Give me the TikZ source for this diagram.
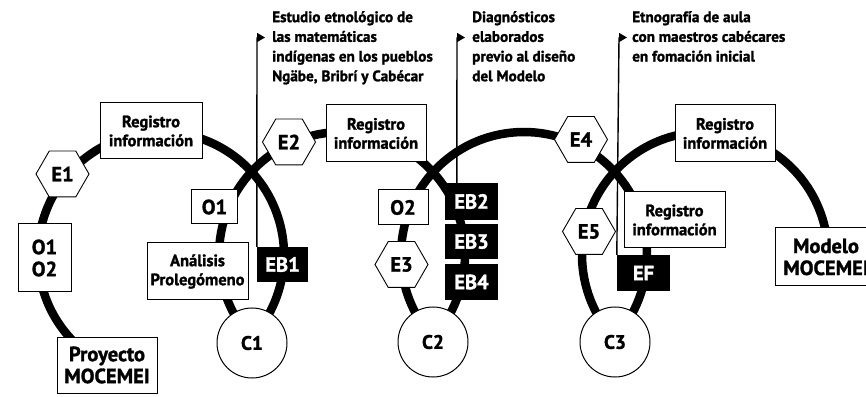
\documentclass[tikz,border=0pt]{standalone}
\usepackage{fontspec}
\setmainfont{PT Sans}[BoldFeatures={FakeBold=1.5}]
\usetikzlibrary{shapes.geometric,arrows.meta,calc}
\begin{document}
\begin{tikzpicture}[x=1pt,y=1pt,
  arcline/.style={line width=8.5pt},
  box/.style={draw, line width=1pt, fill=white, inner sep=0pt, align=center, font=\bfseries\fontsize{16.5}{19}\selectfont},
  bigbox/.style={box, font=\bfseries\fontsize{20.5}{22}\selectfont},
  hexa/.style={regular polygon, regular polygon sides=6, draw, line width=0.9pt, fill=white, minimum size=53pt, inner sep=0pt, font=\bfseries\fontsize{20.5}{22}\selectfont},
  blackbox/.style={fill=black, text=white, inner sep=0pt, font=\bfseries\fontsize{20.5}{22}\selectfont, minimum width=53pt, minimum height=36pt},
  cnode/.style={circle, draw, line width=1pt, fill=white, minimum size=70pt, inner sep=0pt, font=\bfseries\fontsize{19.5}{21}\selectfont},
  header/.style={anchor=north west, inner sep=0pt, align=left, font=\bfseries\fontsize{15.2}{19.7}\selectfont},
  pointer/.style={line width=1.4pt},
  tip/.style={-{Triangle[length=8pt,width=9pt]}, line width=1.4pt}
]
\useasboundingbox (0,0) rectangle (866,396);
% thick arcs
\draw[arcline] (161,141) ++(228:123) arc[start angle=228, end angle=-42.6, radius=123];
\draw[arcline] (342,141) ++(222.6:123) arc[start angle=222.6, end angle=-42.6, radius=123];
\draw[arcline] (524,141) ++(222.6:123) arc[start angle=222.6, end angle=-42.6, radius=123];
\draw[arcline] (705,141) ++(222.6:123) arc[start angle=222.6, end angle=-5, radius=123];
% nodes
\node[box, minimum width=102pt, minimum height=56pt] (reg1) at (151,265) {Registro\\información};
\node[hexa] (e1) at (62.5,222) {E1};
\node[bigbox, minimum width=53pt, minimum height=68pt] (o12) at (44.5,138) {O1\\O2};
\node[bigbox, minimum width=100pt, minimum height=56pt] (proy) at (107,31) {Proyecto\\MOCEMEI};
\node[box, minimum width=101pt, minimum height=57pt] (anal) at (197.5,124.5) {Análisis\\Prolegómeno};
\node[bigbox, minimum width=46pt, minimum height=34pt] (o1) at (214.5,189) {O1};
\node[cnode] (c1) at (252,53) {C1};
\node[blackbox, minimum width=51pt, minimum height=35pt] (eb1) at (282.5,131.5) {EB1};
\node[hexa] (e2) at (289,254) {E2};
\node[box, minimum width=100pt, minimum height=57pt] (reg2) at (376,262.5) {Registro\\información};
\node[bigbox, minimum width=50pt, minimum height=35pt] (o2) at (403,188.5) {O2};
\node[hexa] (e3) at (401.5,131.5) {E3};
\node[blackbox, minimum height=37pt] (eb2) at (471.5,194.5) {EB2};
\node[blackbox, minimum height=35pt] (eb3) at (471.5,154.5) {EB3};
\node[blackbox, minimum height=36pt] (eb4) at (471.5,114) {EB4};
\node[cnode] (c2) at (433,54) {C2};
\node[hexa] (e4) at (581,256.5) {E4};
\node[box, minimum width=100pt, minimum height=57pt] (reg3) at (725,262.5) {Registro\\información};
\node[box, minimum width=101pt, minimum height=56pt] (reg4) at (674.5,176) {Registro\\información};
\node[hexa] (e5) at (589,164.5) {E5};
\node[blackbox] (ef) at (643.5,123) {EF};
\node[cnode] (c3) at (615,54) {C3};
\node[bigbox, minimum width=102pt, minimum height=58pt] (model) at (826,139) {Modelo\\MOCEMEI};
% pointers
\coordinate (t1) at (257,358.5);
\coordinate (t2) at (457,358.5);
\coordinate (t3) at (619,358.5);
\draw[pointer] (eb1.north west) -- (t1);
\draw[tip] (t1) -- ++(8,0);
\draw[pointer] ($(eb2.north west)+(12,0)$) -- (t2);
\draw[tip] (t2) -- ++(8,0);
\draw[pointer] (ef.north west) -- (t3);
\draw[tip] (t3) -- ++(8,0);
% headers
\node[header] (h1) at (272,385) {Estudio etnológico de\\las matemáticas\\indígenas en los pueblos\\Ngäbe, Bribrí y Cabécar};
\node[header] (h2) at (472,385) {Diagnósticos\\elaborados\\previo al diseño\\del Modelo};
\node[header] (h3) at (632,385) {Etnografía de aula\\con maestros cabécares\\en fomación inicial};
\end{tikzpicture}
\end{document}
